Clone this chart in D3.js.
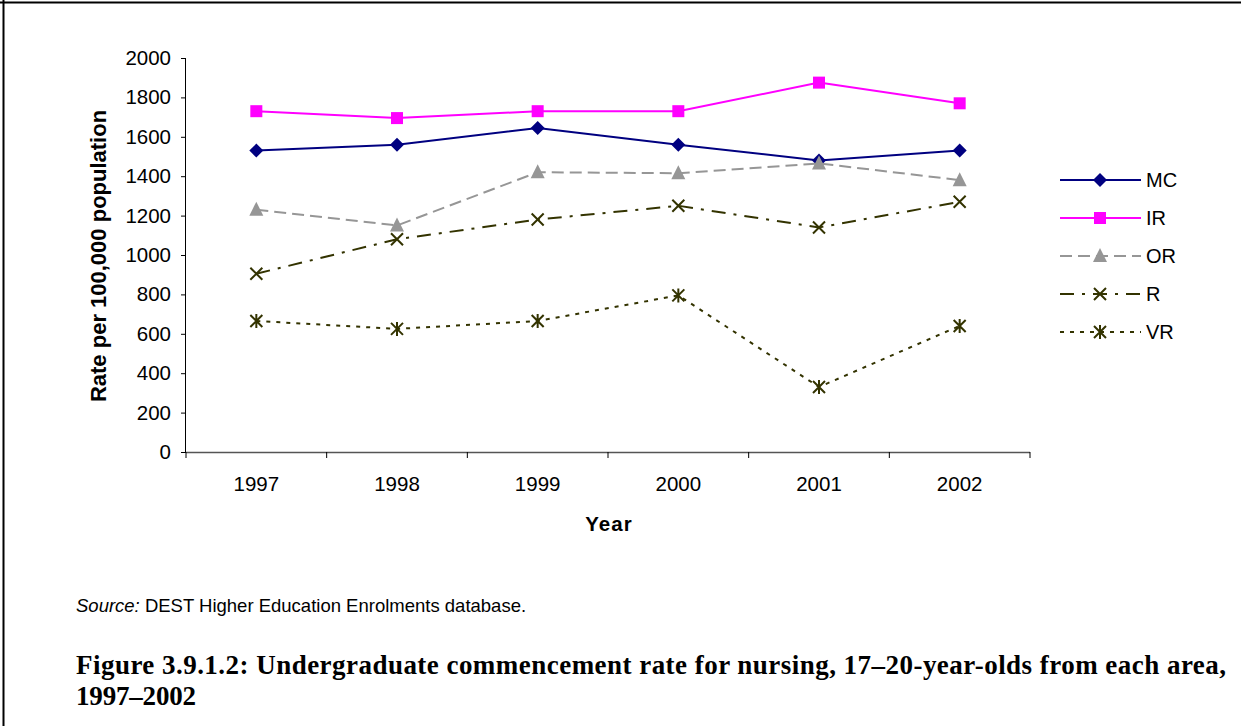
<!DOCTYPE html>
<html>
<head>
<meta charset="utf-8">
<script src="https://cdn.jsdelivr.net/npm/d3@7"></script>
<style>
  html, body { margin: 0; padding: 0; background: #fff; }
  svg { display: block; }
</style>
</head>
<body>
<svg id="chart" width="1241" height="726"></svg>
<script>
// Commencement rate per 100,000 population, nursing, by area
const years = ["1997", "1998", "1999", "2000", "2001", "2002"];
const mc = [1530, 1560, 1645, 1560, 1480, 1530];
const ir = [1730, 1695, 1730, 1730, 1875, 1770];
const or = [1230, 1150, 1420, 1415, 1465, 1380];
const r  = [905, 1080, 1180, 1250, 1140, 1270];
const vr = [665, 625, 665, 795, 330, 640];
const seriesNames = ["MC", "IR", "OR", "R", "VR"];
const yTicks = [0, 200, 400, 600, 800, 1000, 1200, 1400, 1600, 1800, 2000];

const series = [
  { name: "MC", values: mc, color: "#000080", dash: null, marker: "diamond" },
  { name: "IR", values: ir, color: "#ff00ff", dash: null, marker: "square" },
  { name: "OR", values: or, color: "#969696", dash: "12,6", marker: "triangle" },
  { name: "R",  values: r,  color: "#333300", dash: "14,8,3,8", marker: "x" },
  { name: "VR", values: vr, color: "#333300", dash: "4,6", marker: "star" }
];

const svg = d3.select("#chart");
const font = "'Liberation Sans', Arial, sans-serif";

// page frame lines
svg.append("line").attr("x1", 3.5).attr("x2", 3.5).attr("y1", 0).attr("y2", 726)
  .attr("stroke", "#000").attr("stroke-width", 2);
svg.append("line").attr("x1", 0).attr("x2", 1241).attr("y1", 2.5).attr("y2", 2.5)
  .attr("stroke", "#000").attr("stroke-width", 2);

const plot = { left: 186, right: 1030, top: 58, bottom: 452 };

const x = d3.scaleBand().domain(years).range([plot.left, plot.right]);
const y = d3.scaleLinear().domain([0, 2000]).range([plot.bottom, plot.top]);
const cx = d => x(d) + x.bandwidth() / 2;

// y axis
const yAxis = svg.append("g").attr("transform", `translate(${plot.left},0)`)
  .call(d3.axisLeft(y).tickValues(yTicks).tickSize(5).tickPadding(10).tickFormat(d3.format("d")));
yAxis.select(".domain").attr("stroke", "#000").attr("stroke-width", 1).attr("d", `M-0.5,${plot.top}V${plot.bottom}`);
yAxis.selectAll(".tick line").attr("stroke", "#000");
yAxis.selectAll(".tick text").attr("font-family", font).attr("font-size", 20.5).attr("fill", "#000");

// x axis with tick marks between categories
const xAxis = svg.append("g").attr("transform", `translate(0,${plot.bottom})`);
xAxis.append("line").attr("x1", plot.left).attr("x2", plot.right).attr("y1", 0.5).attr("y2", 0.5)
  .attr("stroke", "#555").attr("stroke-width", 1.5);
const bounds = years.map(d => x(d)).concat([plot.right]);
xAxis.selectAll("line.tk").data(bounds).join("line").attr("class", "tk")
  .attr("x1", d => d).attr("x2", d => d).attr("y1", 0).attr("y2", 6)
  .attr("stroke", "#000");
xAxis.selectAll("text").data(years).join("text")
  .attr("x", d => cx(d)).attr("y", 39).attr("text-anchor", "middle")
  .attr("font-family", font).attr("font-size", 20.5).attr("fill", "#000").text(d => d);

// axis titles
svg.append("text").attr("x", 609).attr("y", 531).attr("text-anchor", "middle")
  .attr("font-family", font).attr("font-size", 20.5).attr("font-weight", "bold")
  .attr("letter-spacing", 1).text("Year");
svg.append("text").attr("transform", "translate(106,256) rotate(-90)").attr("text-anchor", "middle")
  .attr("font-family", font).attr("font-size", 22).attr("font-weight", "bold")
  .text("Rate per 100,000 population");

// marker shapes
function drawMarker(g, type, color) {
  if (type === "diamond") {
    g.append("path").attr("d", "M0,-7L7,0L0,7L-7,0Z").attr("fill", color);
  } else if (type === "square") {
    g.append("rect").attr("x", -6).attr("y", -6).attr("width", 12).attr("height", 12).attr("fill", color);
  } else if (type === "triangle") {
    g.append("path").attr("d", "M0,-8L7,6L-7,6Z").attr("fill", color);
  } else if (type === "x") {
    g.append("path").attr("d", "M-6,-6L6,6M-6,6L6,-6").attr("stroke", color).attr("stroke-width", 2);
  } else if (type === "star") {
    g.append("path").attr("d", "M-6,-6L6,6M-6,6L6,-6M0,-7L0,7").attr("stroke", color).attr("stroke-width", 2);
  }
}

const line = d3.line().x((d, i) => cx(years[i])).y(d => y(d));

series.forEach(s => {
  svg.append("path").datum(s.values).attr("d", line)
    .attr("fill", "none").attr("stroke", s.color).attr("stroke-width", 2)
    .attr("stroke-dasharray", s.dash);
  s.values.forEach((v, i) => {
    const g = svg.append("g").attr("transform", `translate(${cx(years[i])},${y(v)})`);
    drawMarker(g, s.marker, s.color);
  });
});

// legend
const legendY = d3.scalePoint().domain(seriesNames).range([180, 332]);
series.forEach(s => {
  const ly = legendY(s.name);
  svg.append("line").attr("x1", 1060).attr("x2", 1141).attr("y1", ly).attr("y2", ly)
    .attr("stroke", s.color).attr("stroke-width", 2).attr("stroke-dasharray", s.dash);
  const g = svg.append("g").attr("transform", `translate(1100,${ly})`);
  drawMarker(g, s.marker, s.color);
  svg.append("text").attr("x", 1146).attr("y", ly + 7)
    .attr("font-family", font).attr("font-size", 20).attr("fill", "#000").text(s.name);
});

// source note
const src = svg.append("text").attr("x", 76).attr("y", 612)
  .attr("font-family", font).attr("font-size", 18.5).attr("fill", "#000");
src.append("tspan").attr("font-style", "italic").text("Source:");
src.append("tspan").text(" DEST Higher Education Enrolments database.");

// figure caption
const serif = "'Liberation Serif', 'DejaVu Serif', serif";
svg.append("text").attr("x", 76).attr("y", 674)
  .attr("font-family", serif).attr("font-size", 27).attr("font-weight", "bold").attr("fill", "#000")
  .attr("textLength", 1150).attr("lengthAdjust", "spacing")
  .text("Figure 3.9.1.2: Undergraduate commencement rate for nursing, 17\u201320-year-olds from each area,");
svg.append("text").attr("x", 76).attr("y", 705)
  .attr("font-family", serif).attr("font-size", 27).attr("font-weight", "bold").attr("fill", "#000")
  .attr("textLength", 120).attr("lengthAdjust", "spacing")
  .text("1997\u20132002");
</script>
</body>
</html>
